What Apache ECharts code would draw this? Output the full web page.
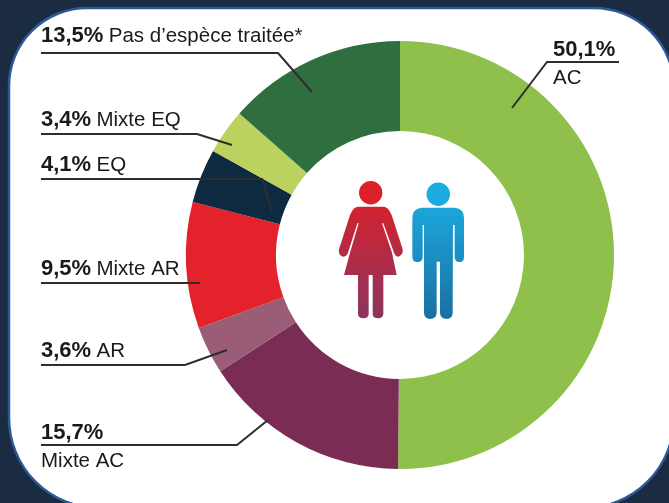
<!DOCTYPE html>
<html lang="fr">
<head>
<meta charset="utf-8">
<title>Espèces traitées</title>
<script src="https://cdn.jsdelivr.net/npm/echarts@6/dist/echarts.min.js"></script>
<style>
  html, body { margin: 0; padding: 0; background: #1b2b42; }
  #chart { width: 669px; height: 503px; }
</style>
</head>
<body>
<div id="chart"></div>
<script>
// clockwise from 12 o'clock
const categories = ['AC', 'Mixte AC', 'AR', 'Mixte AR', 'EQ', 'Mixte EQ', "Pas d\u2019espèce traitée*"]
const shareValues = [50.1, 15.7, 3.6, 9.5, 4.1, 3.4, 13.5]
const twoLineLabels = ['AC', 'Mixte AC']

const sliceColors = ['#8fc04b', '#7a2c55', '#9a5c76', '#e4222b', '#0e2a40', '#bcd25e', '#2f6e3e']

const labelFont = '"Liberation Sans", Arial, sans-serif'

// top-left corner of each label
const labelAnchors = [
  [553, 36], [41, 419], [41, 337], [41, 255], [41, 151], [41, 106], [41, 22],
]

// leader lines: slice end, elbow, end of the underline
const leaderLines = [
  [[512, 108], [547, 62], [619, 62]],
  [[268, 420], [237, 445], [41, 445]],
  [[227, 350], [185, 365], [41, 365]],
  [[200, 283], [41, 283]],
  [[272, 211], [262, 179], [41, 179]],
  [[232, 145], [197, 134], [41, 134]],
  [[312, 92], [278, 53], [41, 53]],
]

const womanBody = 'M85 140 L160 140 Q175 140 185 165 L218 268 Q220 285 205 290 Q197 290 192 278 L160 190 L156 190 L186 278 L200 345 L160 345 L160 462 Q158 475 145 475 Q128 475 128 462 L128 345 L116 345 L116 462 Q115 475 100 475 Q85 475 84 462 L84 345 L42 345 L60 278 L86 190 L82 190 L54 278 Q50 290 38 290 Q24 285 27 268 L60 165 Q70 140 85 140 Z'
const manBody = 'M275 143 L375 143 Q402 145 402 175 L402 290 Q402 306 389 306 Q374 306 374 290 L374 195 L369 195 L368 460 Q366 477 350 477 Q332 477 330 460 L330 305 L320 305 L320 460 Q318 477 300 477 Q284 477 282 460 L282 195 L278 195 L278 290 Q278 306 262 306 Q247 306 247 290 L247 175 Q247 145 275 143 Z'

// the graphic component has no plain path type, so the figures are registered as shapes
echarts.graphic.registerShape('womanBody', echarts.graphic.extendPath(womanBody, {}))
echarts.graphic.registerShape('manBody', echarts.graphic.extendPath(manBody, {}))

const verticalGradient = (from, to) => new echarts.graphic.LinearGradient(0, 0, 0, 1, [
  { offset: 0, color: from },
  { offset: 1, color: to },
])

const formatShare = (value) => value.toFixed(1).replace('.', ',') + '%'

const chart = echarts.init(document.getElementById('chart'), null, { renderer: 'canvas' })

chart.setOption({
  backgroundColor: '#1b2b42',
  animation: false,
  graphic: {
    elements: [
      // white panel with the rounded corners
      {
        type: 'rect',
        z: -10,
        silent: true,
        shape: { x: 9, y: 8, width: 665, height: 500, r: [78, 80, 90, 90] },
        style: { fill: '#ffffff', stroke: '#2c5a97', lineWidth: 2.5 },
      },
      ...leaderLines.map((points) => ({
        type: 'polyline',
        z: 50,
        silent: true,
        shape: { points },
        style: { stroke: '#2e2e2e', lineWidth: 2, fill: null },
      })),
      // figures in the hole
      {
        type: 'circle',
        z: 50,
        silent: true,
        shape: { cx: 370.7, cy: 192.7, r: 11.7 },
        style: { fill: '#dc2129' },
      },
      {
        type: 'circle',
        z: 50,
        silent: true,
        shape: { cx: 438.3, cy: 194.3, r: 11.7 },
        style: { fill: '#1cace2' },
      },
      {
        type: 'womanBody',
        z: 50,
        silent: true,
        x: 330,
        y: 160,
        scaleX: 1 / 3,
        scaleY: 1 / 3,
        style: { fill: verticalGradient('#d2232f', '#8b3560') },
      },
      {
        type: 'manBody',
        z: 50,
        silent: true,
        x: 330,
        y: 160,
        scaleX: 1 / 3,
        scaleY: 1 / 3,
        style: { fill: verticalGradient('#1ca6da', '#1b6fa4') },
      },
    ],
  },
  series: [
    {
      type: 'pie',
      silent: true,
      center: [400, 255],
      radius: [124, 214],
      startAngle: 90,
      clockwise: true,
      avoidLabelOverlap: false,
      data: categories.map((name, i) => ({
        name,
        value: shareValues[i],
        itemStyle: { color: sliceColors[i] },
      })),
      label: {
        show: true,
        position: 'outside',
        color: '#1a1a1a',
        fontFamily: labelFont,
        formatter: (params) => {
          const gap = twoLineLabels.includes(params.name) ? '\n' : ' '
          return `{share|${formatShare(params.value)}}${gap}{name|${params.name}}`
        },
        rich: {
          share: { fontFamily: labelFont, fontSize: 22, fontWeight: 'bold', color: '#1a1a1a', lineHeight: 28, padding: [0, 2, 0, 0] },
          name: { fontFamily: labelFont, fontSize: 20.5, color: '#1a1a1a', lineHeight: 28 },
        },
      },
      labelLine: { show: false },
      labelLayout: (params) => ({
        x: labelAnchors[params.dataIndex][0],
        y: labelAnchors[params.dataIndex][1],
        align: 'left',
        verticalAlign: 'top',
      }),
    },
  ],
})
</script>
</body>
</html>
